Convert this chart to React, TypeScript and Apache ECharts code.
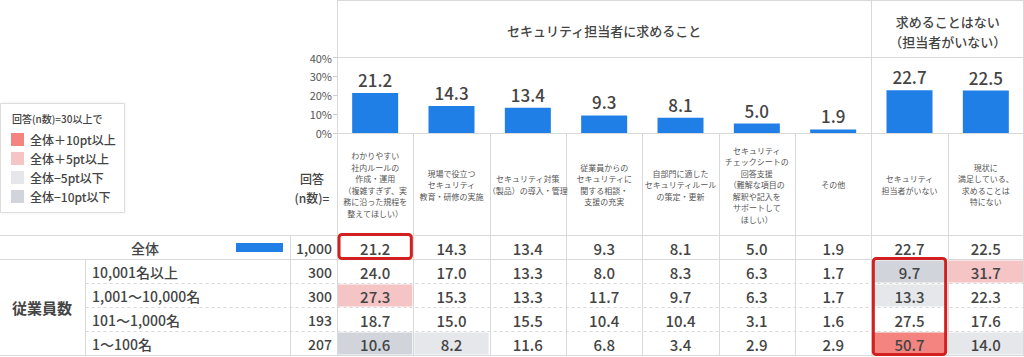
import React, { useEffect, useRef } from "react";
import * as echarts from "echarts";

// ---------- data ----------
const categories: string[] = [
  "わかりやすい\n社内ルールの\n作成・運用\n（複雑すぎず、実\n務に沿った規程を\n整えてほしい）",
  "現場で役立つ\nセキュリティ\n教育・研修の実施",
  "セキュリティ対策\n（製品）の導入・管理",
  "従業員からの\nセキュリティに\n関する相談・\n支援の充実",
  "自部門に適した\nセキュリティルール\nの策定・更新",
  "セキュリティ\nチェックシートの\n回答支援\n（難解な項目の\n解釈や記入を\nサポートして\nほしい）",
  "その他",
  "セキュリティ\n担当者がいない",
  "現状に\n満足している、\n求めることは\n特にない",
];
const overall: number[] = [21.2, 14.3, 13.4, 9.3, 8.1, 5.0, 1.9, 22.7, 22.5];
const rowNames: string[] = ["全体", "10,001名以上", "1,001～10,000名", "101～1,000名", "1～100名"];
const rowN: string[] = ["1,000", "300", "300", "193", "207"];
const row10001: number[] = [24.0, 17.0, 13.3, 8.0, 8.3, 6.3, 1.7, 9.7, 31.7];
const row1001: number[] = [27.3, 15.3, 13.3, 11.7, 9.7, 6.3, 1.7, 13.3, 22.3];
const row101: number[] = [18.7, 15.0, 15.5, 10.4, 10.4, 3.1, 1.6, 27.5, 17.6];
const row1: number[] = [10.6, 8.2, 11.6, 6.8, 3.4, 2.9, 2.9, 50.7, 14.0];
const yTicks: number[] = [0, 10, 20, 30, 40];
const groupHeaders: string[] = ["セキュリティ担当者に求めること", "求めることはない\n（担当者がいない）"];
const legendTitle = "回答(n数)=30以上で";
const legendLabels: string[] = ["全体＋10pt以上", "全体＋5pt以上", "全体−5pt以下", "全体−10pt以下"];
const highlightBoxes: number[][] = [
  [0, 0, 0],
  [7, 1, 4],
];

// ---------- style ----------
const FONT = '"Noto Sans CJK JP", "Noto Sans", sans-serif';
const BLUE = "#1f7fe6";
const TEXT = "#444";
const LINE = "#d9d9d9";
const FILLS = ["#f3847f", "#f5c4c4", "#e5e7eb", "#d1d4db"];
const WT = 500;

const W = 1024;
const H = 357;
const TL = 337;
const TR = 1024;
const COLW = (TR - TL) / 9;
const HEAD_B = 57.5;
const BAR_B = 133;
const TAB_T = 235.5;
const TAB_B = 355.5;
const ROWH = (TAB_B - TAB_T) / 5;

function fillIndex(v: number, base: number): number {
  const d = v - base;
  if (d >= 10) return 0;
  if (d >= 5) return 1;
  if (d <= -10) return 3;
  if (d <= -5) return 2;
  return -1;
}

export default function App() {
  const ref = useRef<HTMLDivElement>(null);
  useEffect(() => {
    document.body.style.margin = "0";
    if (!ref.current) return;
    const chart = echarts.init(ref.current, undefined, { renderer: "svg" });

    const rows = [overall, row10001, row1001, row101, row1];
    const cellData: any[] = [];
    rows.forEach((r, ri) => {
      r.forEach((v, ci) => {
        cellData.push([ci, ri, v, ri === 0 ? -1 : fillIndex(v, overall[ci])]);
      });
    });

    const lines: any[] = [];
    const hl = (y: number, x1: number, x2: number, dashed = false) =>
      lines.push({
        type: "line",
        shape: { x1, y1: y, x2, y2: y },
        style: { stroke: LINE, lineWidth: 1, lineDash: dashed ? [3, 3] : null },
        silent: true,
      });
    const vl = (x: number, y1: number, y2: number) =>
      lines.push({
        type: "line",
        shape: { x1: x, y1, x2: x, y2 },
        style: { stroke: LINE, lineWidth: 1 },
        silent: true,
      });
    hl(0.5, TL, TR);
    hl(HEAD_B, TL, TR);
    hl(TAB_T, 0, TR);
    hl(TAB_T + ROWH, 0, TR);
    for (let i = 2; i < 5; i++) hl(TAB_T + ROWH * i, 85.5, TR, true);
    hl(TAB_B, 0, TR);
    vl(TL + 0.5, 0, TAB_B);
    vl(Math.round(TL + 7 * COLW) + 0.5, 0, TAB_B);
    vl(TR - 0.5, 0, TAB_B);
    for (let c = 1; c < 9; c++) if (c !== 7) vl(Math.round(TL + c * COLW) + 0.5, BAR_B, TAB_B);
    vl(290.5, TAB_T, TAB_B);
    vl(85.5, TAB_T + ROWH, TAB_B);

    const texts: any[] = [
      {
        type: "text",
        x: TL + 3.5 * COLW,
        y: 30,
        style: { text: groupHeaders[0], align: "center", verticalAlign: "middle", fill: TEXT, fontSize: 13, fontWeight: WT, fontFamily: FONT },
      },
      {
        type: "text",
        x: TL + 8 * COLW,
        y: 31,
        style: { text: groupHeaders[1], align: "center", verticalAlign: "middle", fill: TEXT, fontSize: 13, fontWeight: WT, fontFamily: FONT, lineHeight: 20 },
      },
      {
        type: "text",
        x: 312,
        y: 188,
        style: { text: "回答\n(n数)=", align: "center", verticalAlign: "middle", fill: TEXT, fontSize: 12, fontWeight: WT, fontFamily: FONT, lineHeight: 19 },
      },
      {
        type: "text",
        x: 145,
        y: TAB_T + ROWH / 2,
        style: { text: rowNames[0], align: "center", verticalAlign: "middle", fill: TEXT, fontSize: 14, fontWeight: WT, fontFamily: FONT },
      },
      {
        type: "text",
        x: 42,
        y: TAB_T + ROWH * 3,
        style: { text: "従業員数", align: "center", verticalAlign: "middle", fill: TEXT, fontSize: 15, fontWeight: "bold", fontFamily: FONT },
      },
      {
        type: "rect",
        shape: { x: 236, y: 243, width: 47, height: 9 },
        style: { fill: BLUE },
      },
    ];

    const legend: any = {
      type: "group",
      left: 0,
      top: 103,
      children: [
        {
          type: "rect",
          shape: { x: 0.5, y: 0.5, width: 124, height: 109 },
          style: { fill: "#fff", stroke: "#ddd", lineWidth: 1, shadowBlur: 3, shadowColor: "rgba(0,0,0,0.08)" },
        },
        {
          type: "text",
          x: 12,
          y: 15,
          style: { text: legendTitle, verticalAlign: "middle", fill: TEXT, fontSize: 10, fontWeight: WT, fontFamily: FONT },
        },
        ...legendLabels.flatMap((t, i) => [
          { type: "rect", shape: { x: 11, y: 30 + i * 19, width: 13, height: 13 }, style: { fill: FILLS[i] } },
          {
            type: "text",
            x: 30,
            y: 36.5 + i * 19,
            style: { text: t, verticalAlign: "middle", fill: TEXT, fontSize: 12, fontWeight: WT, fontFamily: FONT },
          },
        ]),
      ],
    };

    chart.setOption({
      animation: false,
      textStyle: { fontFamily: FONT },
      grid: [
        { left: TL, top: HEAD_B, width: TR - TL, height: BAR_B - HEAD_B, containLabel: false },
        { left: TL, top: TAB_T, width: TR - TL, height: TAB_B - TAB_T, containLabel: false },
      ],
      xAxis: [
        {
          type: "category",
          gridIndex: 0,
          data: categories,
          axisLine: { show: true, lineStyle: { color: LINE } },
          axisTick: { show: false },
          axisLabel: {
            interval: 0,
            fontSize: 8,
            lineHeight: 11.5,
            color: "#555",
            verticalAlign: "middle",
            margin: 51.5,
            fontFamily: FONT,
          },
        },
        {
          type: "category",
          gridIndex: 1,
          data: categories.map((_, i) => String(i)),
          axisLine: { show: false },
          axisTick: { show: false },
          axisLabel: { show: false },
        },
      ],
      yAxis: [
        {
          type: "value",
          gridIndex: 0,
          min: yTicks[0],
          max: yTicks[yTicks.length - 1],
          interval: 10,
          axisLine: { show: true, lineStyle: { color: LINE } },
          axisTick: { show: true, length: 4, lineStyle: { color: "#ccc" } },
          splitLine: { show: false },
          axisLabel: { formatter: "{value}%", fontSize: 11, color: "#555", margin: 5, fontFamily: FONT },
        },
        {
          type: "category",
          gridIndex: 1,
          inverse: true,
          position: "left",
          data: rowN,
          axisLine: { show: false },
          axisTick: { show: false },
          axisLabel: { fontSize: 14, fontWeight: WT, color: TEXT, margin: 5, fontFamily: FONT },
        },
        {
          type: "category",
          gridIndex: 1,
          inverse: true,
          position: "left",
          data: rowNames.map((n, i) => (i === 0 ? "" : n)),
          axisLine: { show: false },
          axisTick: { show: false },
          axisLabel: { fontSize: 14, fontWeight: WT, color: TEXT, margin: TL - 92, align: "left", fontFamily: FONT },
        },
      ],
      graphic: [...lines, ...texts, legend],
      series: [
        {
          type: "bar",
          xAxisIndex: 0,
          yAxisIndex: 0,
          data: overall,
          barWidth: 46,
          itemStyle: { color: BLUE },
          label: {
            show: true,
            position: "top",
            distance: 5,
            fontSize: 17,
            fontWeight: WT,
            color: TEXT,
            fontFamily: FONT,
            formatter: (p: any) => Number(p.value).toFixed(1),
          },
        },
        {
          type: "custom",
          xAxisIndex: 1,
          yAxisIndex: 1,
          data: cellData,
          clip: false,
          renderItem: (params: any, api: any) => {
            const c = api.coord([api.value(0), api.value(1)]);
            const s = api.size([1, 1]);
            const fi = api.value(3);
            const v = api.value(2);
            return {
              type: "group",
              children: [
                {
                  type: "rect",
                  shape: { x: c[0] - s[0] / 2 + 1, y: c[1] - s[1] / 2 + 1, width: s[0] - 2, height: s[1] - 2 },
                  style: { fill: fi >= 0 ? FILLS[fi] : "rgba(0,0,0,0)" },
                },
                {
                  type: "text",
                  x: c[0],
                  y: c[1] + 0.5,
                  style: {
                    text: Number(v).toFixed(1),
                    align: "center",
                    verticalAlign: "middle",
                    fill: TEXT,
                    fontSize: 15,
                    fontWeight: WT,
                    fontFamily: FONT,
                  },
                },
              ],
            };
          },
        },
        {
          type: "custom",
          xAxisIndex: 1,
          yAxisIndex: 1,
          data: highlightBoxes,
          clip: false,
          z: 10,
          renderItem: (params: any, api: any) => {
            const a = api.coord([api.value(0), api.value(1)]);
            const b = api.coord([api.value(0), api.value(2)]);
            const s = api.size([1, 1]);
            const top = a[1] - s[1] / 2 - 1;
            const bottom = b[1] + s[1] / 2 - 1;
            return {
              type: "rect",
              shape: { x: a[0] - s[0] / 2 + 2, y: top, width: s[0] - 4, height: bottom - top, r: 3 },
              style: { fill: "none", stroke: "#d21f1f", lineWidth: 3 },
            };
          },
        },
      ],
    });
    return () => chart.dispose();
  }, []);
  return <div ref={ref} style={{ width: W, height: H }} />;
}
